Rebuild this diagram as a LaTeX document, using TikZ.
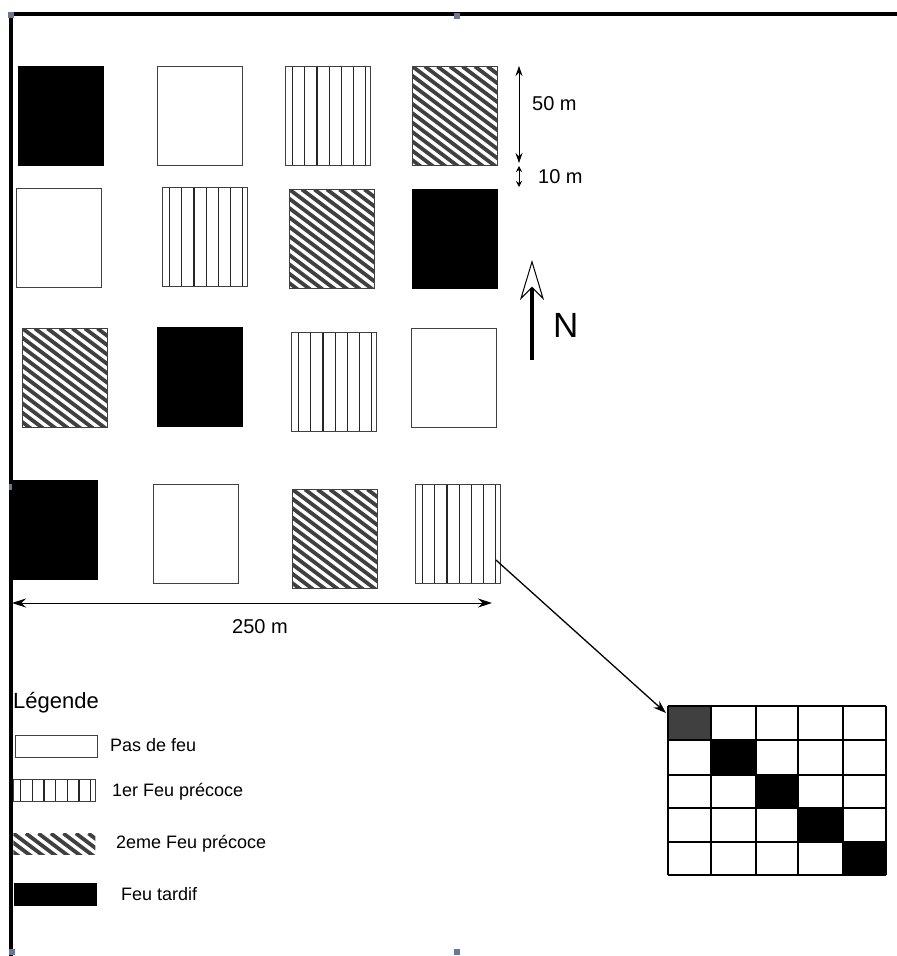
\documentclass[tikz,border=0pt]{standalone}
\usepackage{fontspec}
\setmainfont{Liberation Sans}
\usetikzlibrary{arrows.meta, calc}
\definecolor{handlecol}{HTML}{6A7795}

\begin{document}
\begin{tikzpicture}[x=1pt, y=-1pt,
    plot/.style={draw=black!75, line width=0.9pt, inner sep=0pt, anchor=north west,
        minimum width=85pt, minimum height=99pt},
    legbox/.style={draw=black!75, line width=0.9pt, inner sep=0pt, anchor=north west,
        minimum width=82pt, minimum height=22pt},
    nofire/.style={fill=white},
    late/.style={fill=black, draw=black},
    early/.style={path picture={
        \foreach \k in {1,...,7}
            \draw[black!85, line width=1.2pt]
                ($(path picture bounding box.north west)!{(\k-0.4)/7}!(path picture bounding box.north east)$) --
                ($(path picture bounding box.south west)!{(\k-0.4)/7}!(path picture bounding box.south east)$);}},
    second/.style={path picture={
        \foreach \k in {-12,...,8}
            \draw[line width=3.8pt] ([xshift=\k*12.5pt]path picture bounding box.north west) -- ++(140,105);}},
    lbl/.style={anchor=base west, inner sep=0pt, font=\fontsize{18}{20}\selectfont},
    dim/.style={anchor=base west, inner sep=0pt, font=\fontsize{20}{24}\selectfont},
    handle/.style={fill=handlecol, minimum size=6pt, inner sep=0pt}
]
    \useasboundingbox (0,0) rectangle (897,956);

    % Frame
    \draw[line width=3.2pt] (11,956) -- (11,14) -- (897,14);
    \foreach \name/\x/\y in {h1/11/15, h2/457/16, h3/12/487, h4/12/952, h5/457/952}
        \node[handle] (\name) at (\x,\y) {};

    % Plots
    \foreach \name/\x/\y/\kind in {p11/18/66/late, p12/157/66/nofire, p13/285/66/early, p14/412/66/second,
                                   p21/16/188/nofire, p22/162/187/early, p23/289/189/second, p24/412/189/late,
                                   p31/22/328/second, p32/157/327/late, p33/291/332/early, p34/411/328/nofire,
                                   p41/12/480/late, p42/153/484/nofire, p43/292/489/second, p44/415/484/early}
        \node[plot, \kind] (\name) at (\x,\y) {};

    % Dimensions
    \coordinate (w0) at (12,603);
    \coordinate (w1) at (492,603);
    \draw[line width=1pt, {Stealth[length=14pt, width=9pt]}-{Stealth[length=14pt, width=9pt]}] (w0) -- (w1);
    \node[dim] (l250) at (232,633) {250 m};

    \coordinate (v0) at (519,66);
    \coordinate (v1) at (519,163);
    \coordinate (v2) at (519,166);
    \coordinate (v3) at (519,187);
    \draw[line width=0.8pt, {Stealth[length=10pt, width=7pt]}-{Stealth[length=10pt, width=7pt]}] (v0) -- (v1);
    \draw[line width=0.8pt, {Stealth[length=6pt, width=6pt]}-{Stealth[length=6pt, width=6pt]}] (v2) -- (v3);
    \node[dim] (l50) at (532,110) {50 m};
    \node[dim] (l10) at (538,183) {10 m};

    % North
    \coordinate (n0) at (532,360);
    \coordinate (n1) at (532,260);
    \draw[line width=3.5pt, -{Stealth[open, length=40pt, width=24pt, inset=12pt, line width=1pt]}] (n0) -- (n1);
    \node[anchor=base west, inner sep=0pt, font=\fontsize{35}{40}\selectfont] (north) at (553,337) {N};

    % Zoom on one plot
    \fill[black!75] (668,706) rectangle (711,740);
    \fill (711,740) rectangle (756,775);
    \fill (756,775) rectangle (798,808);
    \fill (798,808) rectangle (843,842);
    \fill (843,842) rectangle (886,875);
    \foreach \x in {668,711,756,798,843,886}
        \draw[line width=1.4pt] (\x,706) -- (\x,875);
    \foreach \y in {706,740,775,808,842,875}
        \draw[line width=1.4pt] (668,\y) -- (886,\y);
    \coordinate (gridin) at (666,713);
    \draw[line width=1.3pt, -{Stealth[length=13pt, width=9pt]}] ([xshift=-5pt, yshift=-26pt]p44.east) -- (gridin);

    % Legend
    \node[anchor=base west, inner sep=0pt, font=\fontsize{22}{26}\selectfont] (leg) at (13,708) {Légende};
    \node[legbox, nofire] (lg1) at (15,735) {};
    \node[legbox, early] (lg2) at (13,779) {};
    \node[legbox, second, draw=none, minimum height=21pt] (lg3) at (13,833) {};
    \node[legbox, late] (lg4) at (14,883) {};
    \node[lbl] (t1) at (110,751) {Pas de feu};
    \node[lbl] (t2) at (112,796) {1er Feu précoce};
    \node[lbl] (t3) at (116,848) {2eme Feu précoce};
    \node[lbl] (t4) at (121,900) {Feu tardif};
\end{tikzpicture}
\end{document}
